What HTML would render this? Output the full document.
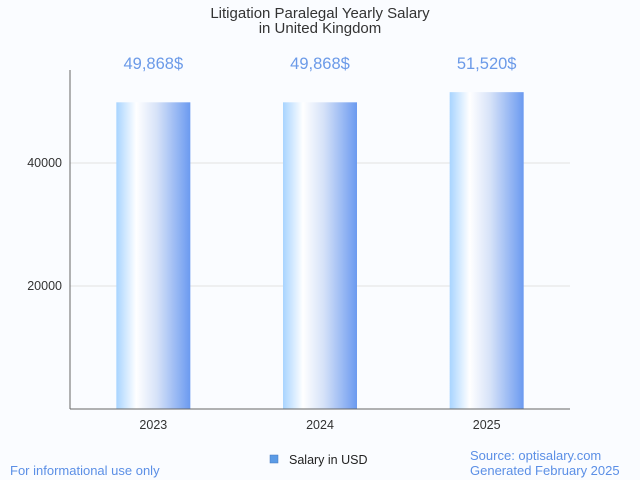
<!DOCTYPE html>
<html><head><meta charset="utf-8"><style>
body{margin:0;background:#fafcff;}
svg{display:block;font-family:"Liberation Sans",sans-serif;}
</style></head><body>
<svg id="c" width="640" height="480">
<defs><linearGradient id="g" x1="0" x2="1" y1="0" y2="0">
<stop offset="0" stop-color="#a8d4ff"/><stop offset="0.27" stop-color="#ffffff"/><stop offset="0.55" stop-color="#d6e2f8"/><stop offset="1" stop-color="#6b9af0"/></linearGradient></defs>
<text x="320" y="18" text-anchor="middle" font-size="15" fill="#333">Litigation Paralegal Yearly Salary</text>
<text x="320" y="33" text-anchor="middle" font-size="15" fill="#333">in United Kingdom</text>
<g id="grid"></g><g id="bars"></g>
<line x1="70" y1="70" x2="70" y2="409" stroke="#666"/>
<line x1="70" y1="409" x2="570" y2="409" stroke="#666"/>
<rect x="270" y="455" width="8" height="8" fill="#5b9be6" stroke="#4477bb" stroke-width="0.5"/>
<text x="289" y="464" font-size="12.5" fill="#222">Salary in USD</text>
<text x="10" y="475" font-size="13" fill="#5b8fe6">For informational use only</text>
<text x="470" y="460" font-size="13" fill="#5b8fe6">Source: optisalary.com</text>
<text x="470" y="475" font-size="13" fill="#5b8fe6">Generated February 2025</text>
</svg>
<script>
const categories=["2023","2024","2025"];
const salaries=[49868,49868,51520];
const valueLabels=["49,868$","49,868$","51,520$"];
const yTicks=[20000,40000];
const NS="http://www.w3.org/2000/svg";
const y=v=>409-v*(123/20000);
const bw=500/3, x=i=>70+bw*i+bw/2;
function mk(t,a,p){const e=document.createElementNS(NS,t);for(const k in a)e.setAttribute(k,a[k]);p.appendChild(e);return e;}
const grid=document.getElementById('grid'),bars=document.getElementById('bars');
yTicks.forEach(v=>{
 const l=mk('line',{x1:70,x2:570,y1:y(v),y2:y(v),stroke:'#e2e2e2'},grid);
 
 
 const t=mk('text',{x:62,y:y(v)+4,'text-anchor':'end','font-size':12.5,fill:'#333'},grid);
 t.textContent=v;
 
 
});
categories.forEach((c,i)=>{
 const r=mk('rect',{x:x(i)-37,y:y(salaries[i]),width:74,height:409-y(salaries[i]),fill:'url(#g)'},bars);
 
 
 const v=mk('text',{x:x(i),y:69,'text-anchor':'middle','font-size':16.5,fill:'#6b9ae8'},bars);
 v.textContent=valueLabels[i];
 
 
 const t=mk('text',{x:x(i),y:429,'text-anchor':'middle','font-size':12.5,fill:'#333'},bars);
 t.textContent=c;
 
 
});
</script>
</body></html>
